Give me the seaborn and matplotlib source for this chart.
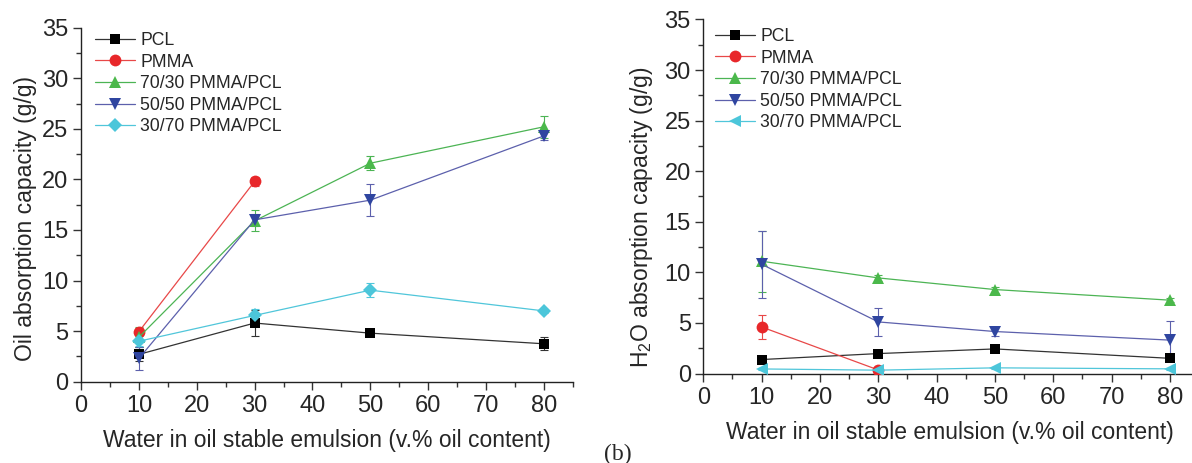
import numpy as np
import pandas as pd
import matplotlib
matplotlib.use("Agg")
import matplotlib.pyplot as plt
from matplotlib.lines import Line2D
from matplotlib.ticker import MultipleLocator
import seaborn as sns

# ---------------- data ----------------
series_names = ["PCL", "PMMA", "70/30 PMMA/PCL", "50/50 PMMA/PCL", "30/70 PMMA/PCL"]
x_full = [10, 30, 50, 80]
x_pmma = [10, 30]

# (a) Oil absorption capacity (g/g)
oil_pcl = [2.7, 5.8, 4.8, 3.75]
oil_pcl_err = [0.7, 1.3, 0.2, 0.65]
oil_pmma = [4.95, 19.8]
oil_pmma_err = [0.35, 0.45]
oil_7030 = [4.4, 15.9, 21.6, 25.2]
oil_7030_err = [1.0, 1.05, 0.7, 1.1]
oil_5050 = [2.3, 16.0, 17.95, 24.3]
oil_5050_err = [1.15, 0.6, 1.6, 0.4]
oil_3070 = [4.0, 6.55, 9.05, 7.0]
oil_3070_err = [0.5, 0.6, 0.7, 0.2]

# (b) H2O absorption capacity (g/g)
h2o_pcl = [1.38, 1.97, 2.43, 1.5]
h2o_pcl_err = [0.15, 0.15, 0.15, 0.15]
h2o_pmma = [4.6, 0.35]
h2o_pmma_err = [1.2, 0.1]
h2o_7030 = [11.1, 9.45, 8.3, 7.25]
h2o_7030_err = [3.0, 0.3, 0.3, 0.2]
h2o_5050 = [10.8, 5.1, 4.15, 3.3]
h2o_5050_err = [3.3, 1.35, 0.4, 1.85]
h2o_3070 = [0.45, 0.33, 0.56, 0.46]
h2o_3070_err = [0.1, 0.1, 0.1, 0.1]

x_ticks = [0, 10, 20, 30, 40, 50, 60, 70, 80]
y_ticks = [0, 5, 10, 15, 20, 25, 30, 35]

marker_colors = {"PCL": "#000000", "PMMA": "#e8272a", "70/30 PMMA/PCL": "#4bb84b",
                 "50/50 PMMA/PCL": "#2f45a0", "30/70 PMMA/PCL": "#4cc6da"}
line_colors = {"PCL": "#333333", "PMMA": "#e84848", "70/30 PMMA/PCL": "#4cb454",
               "50/50 PMMA/PCL": "#5c60ac", "30/70 PMMA/PCL": "#50c6da"}
markers_a = {"PCL": "s", "PMMA": "o", "70/30 PMMA/PCL": "^",
             "50/50 PMMA/PCL": "v", "30/70 PMMA/PCL": "D"}
markers_b = dict(markers_a)
markers_b["30/70 PMMA/PCL"] = "<"
msizes = {"s": 7.0, "o": 8.5, "^": 9.0, "v": 9.0, "D": 7.5, "<": 9.0}


def build(vals):
    rows = []
    for name, xs, ys, es in vals:
        for xv, yv, ev in zip(xs, ys, es):
            rows.append({"series": name, "x": xv, "y": yv, "err": ev})
    return pd.DataFrame(rows)


df_a = build([
    ("PCL", x_full, oil_pcl, oil_pcl_err),
    ("PMMA", x_pmma, oil_pmma, oil_pmma_err),
    ("70/30 PMMA/PCL", x_full, oil_7030, oil_7030_err),
    ("50/50 PMMA/PCL", x_full, oil_5050, oil_5050_err),
    ("30/70 PMMA/PCL", x_full, oil_3070, oil_3070_err),
])
df_b = build([
    ("PCL", x_full, h2o_pcl, h2o_pcl_err),
    ("PMMA", x_pmma, h2o_pmma, h2o_pmma_err),
    ("70/30 PMMA/PCL", x_full, h2o_7030, h2o_7030_err),
    ("50/50 PMMA/PCL", x_full, h2o_5050, h2o_5050_err),
    ("30/70 PMMA/PCL", x_full, h2o_3070, h2o_3070_err),
])

# ---------------- style ----------------
sns.set_style("ticks")
plt.rcParams["font.family"] = ["Liberation Sans", "DejaVu Sans"]
plt.rcParams["mathtext.fontset"] = "custom"
plt.rcParams["mathtext.rm"] = "Liberation Sans"
plt.rcParams["mathtext.it"] = "Liberation Sans:italic"
plt.rcParams["axes.linewidth"] = 1.0

fig = plt.figure(figsize=(11.92, 4.63), dpi=100)
ax_a = fig.add_axes([0.068, 0.1756, 0.4125, 0.7646])
ax_b = fig.add_axes([0.590, 0.1933, 0.4160, 0.7646])

TICK_FS = 17
LABEL_FS = 16.5
LEG_FS = 12.7


def draw(ax, df, markers):
    for name in series_names:
        sub = df[df["series"] == name]
        ax.errorbar(sub["x"], sub["y"], yerr=sub["err"], fmt="none",
                    ecolor=line_colors[name], elinewidth=0.8, capsize=3.2,
                    capthick=0.8, zorder=2)
        sns.lineplot(data=sub, x="x", y="y", ax=ax, color=line_colors[name],
                     marker=markers[name], markersize=msizes[markers[name]],
                     markeredgewidth=0, linewidth=0.9, estimator=None,
                     legend=False, zorder=3)
        ax.lines[-1].set_markerfacecolor(marker_colors[name])
    ax.set_xlim(0, 85)
    ax.set_ylim(0, 35)
    ax.set_xticks(x_ticks)
    ax.set_yticks(y_ticks)
    ax.xaxis.set_minor_locator(MultipleLocator(5))
    ax.yaxis.set_minor_locator(MultipleLocator(2.5))
    ax.tick_params(axis="both", which="major", direction="out", length=6,
                   width=1.0, labelsize=TICK_FS, color="#333333")
    ax.tick_params(axis="both", which="minor", direction="out", length=3.5,
                   width=1.0, color="#333333")
    ax.tick_params(axis="x", which="major", pad=3.5)
    ax.tick_params(axis="y", which="major", pad=3)
    sns.despine(ax=ax)
    ax.spines["left"].set_color("#222222")
    ax.spines["bottom"].set_color("#222222")
    handles = [Line2D([0], [0], color=line_colors[n], marker=markers[n],
                      markerfacecolor=marker_colors[n],
                      markersize=msizes[markers[n]], markeredgewidth=0,
                      linewidth=0.9) for n in series_names]
    return handles


h_a = draw(ax_a, df_a, markers_a)
h_b = draw(ax_b, df_b, markers_b)

ax_a.set_xlabel("Water in oil stable emulsion (v.% oil content)", fontsize=LABEL_FS)
ax_a.set_ylabel("Oil absorption capacity (g/g)", fontsize=LABEL_FS)
ax_b.set_xlabel("Water in oil stable emulsion (v.% oil content)", fontsize=LABEL_FS)
ax_b.set_ylabel(r"H$_2$O absorption capacity (g/g)", fontsize=LABEL_FS)

ax_a.xaxis.set_label_coords(0.499, -0.1675)
ax_a.xaxis.label.set_verticalalignment("center")
ax_a.yaxis.set_label_coords(-0.112, 0.46)
ax_a.yaxis.label.set_verticalalignment("center")
ax_b.xaxis.set_label_coords(0.498, -0.168)
ax_b.xaxis.label.set_verticalalignment("center")
ax_b.yaxis.set_label_coords(-0.124, 0.442)
ax_b.yaxis.label.set_verticalalignment("center")

leg_kw = dict(loc="upper left", frameon=False, fontsize=LEG_FS,
              handlelength=2.27, handletextpad=0.3, labelspacing=0.26,
              borderpad=0, borderaxespad=0)
ax_a.legend(h_a, series_names, bbox_to_anchor=(95 / 1192, 1 - 32 / 463),
            bbox_transform=fig.transFigure, **leg_kw)
ax_b.legend(h_b, series_names, bbox_to_anchor=(715 / 1192, 1 - 28 / 463),
            bbox_transform=fig.transFigure, **leg_kw)

fig.text(618 / 1192, 1 - 454 / 463, "(b)", family=["Liberation Serif", "DejaVu Serif"],
         fontsize=17, ha="center", va="center")

fig.savefig("out.png", dpi=100)
